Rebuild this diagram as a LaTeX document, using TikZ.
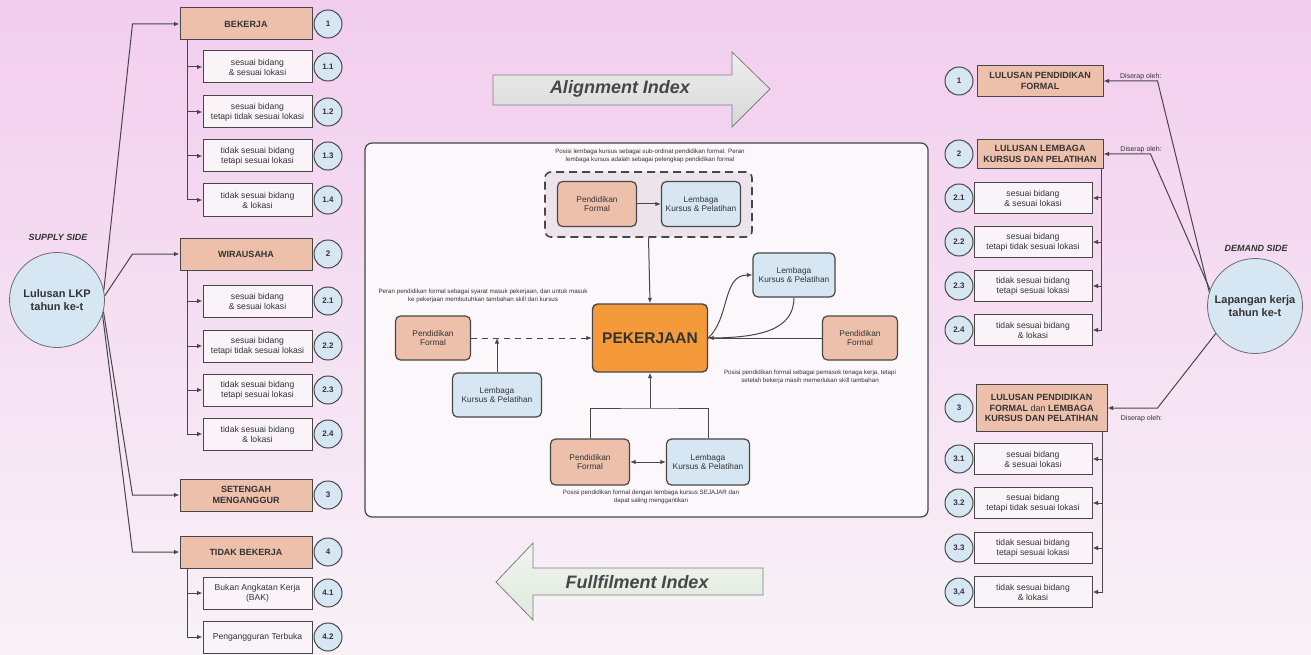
\documentclass[tikz,border=0pt]{standalone}
\usepackage{fontspec}
\setmainfont{Liberation Sans}
\usetikzlibrary{arrows.meta,calc}
\definecolor{bgtop}{HTML}{F2CDEE}
\definecolor{bgbot}{HTML}{F8F2F7}
\definecolor{salmon}{HTML}{EDC0AB}
\definecolor{lblue}{HTML}{D6E6F3}
\definecolor{edge}{HTML}{474747}
\definecolor{boxw}{HTML}{FAF4F9}
\definecolor{orng}{HTML}{F49A3A}
\definecolor{txt}{HTML}{333333}
\definecolor{grp}{HTML}{ECE4EA}
\definecolor{arrowA}{HTML}{D9D8D9}
\definecolor{arrowF}{HTML}{DFE9DC}
\begin{document}
\begin{tikzpicture}[x=1pt,y=-1pt,
  every node/.style={text=txt},
  mainbox/.style={draw=edge,line width=1pt,fill=salmon,minimum height=32pt,
    align=center,inner sep=0pt,font=\bfseries\fontsize{9}{10.5}\selectfont},
  subbox/.style={draw=edge,line width=1pt,fill=boxw,minimum height=32pt,
    align=center,inner sep=0pt,font=\fontsize{8.6}{10}\selectfont},
  numc/.style={circle,draw=edge,line width=1pt,fill=lblue,minimum size=28pt,
    inner sep=0pt,font=\bfseries\fontsize{8}{9}\selectfont},
  sidec/.style={circle,draw=edge!80,line width=0.8pt,fill=lblue,minimum size=95pt,
    align=center,inner sep=0pt,font=\bfseries\fontsize{11}{13}\selectfont},
  inbox/.style={draw=edge,line width=1.2pt,rounded corners=5pt,align=center,
    inner sep=1pt,font=\fontsize{8.3}{9.8}\selectfont},
  note/.style={align=center,inner sep=0pt,font=\fontsize{6.2}{7.4}\selectfont},
  link/.style={draw=edge,line width=1pt},
  arr/.style={link,-{Latex[length=5.5pt,width=4.5pt]}},
  dbl/.style={link,{Latex[length=5.5pt,width=4.5pt]}-{Latex[length=5.5pt,width=4.5pt]}},
  sidelbl/.style={font=\bfseries\itshape\fontsize{9}{10}\selectfont},
  serap/.style={font=\fontsize{7}{8}\selectfont,inner sep=1pt},
  bigarrow/.style={font=\bfseries\itshape\fontsize{18}{20}\selectfont,text=edge}
]
% background
\shade[top color=bgtop,bottom color=bgbot] (0,0) rectangle (1311,655);
\useasboundingbox (0,0) rectangle (1311,655);

% ---------- supply side ----------
\node[sidec] (sup) at (57,300) {Lulusan LKP\\tahun ke-t};
\node[sidelbl] (suplbl) at (58,237) {SUPPLY SIDE};

\node[mainbox,minimum width=132pt] (m1) at (246,24) {BEKERJA};
\node[mainbox,minimum width=132pt] (m2) at (246,254) {WIRAUSAHA};
\node[mainbox,minimum width=132pt] (m3) at (246,495) {SETENGAH\\MENGANGGUR};
\node[mainbox,minimum width=132pt] (m4) at (246,552) {TIDAK BEKERJA};
\node[numc] (n1) at (328,24) {1};
\node[numc] (n2) at (328,254) {2};
\node[numc] (n3) at (328,495) {3};
\node[numc] (n4) at (328,552) {4};

\foreach \id/\y/\t/\n in {
  s11/67/{sesuai bidang\\\& sesuai lokasi}/1.1,
  s12/112/{sesuai bidang\\tetapi tidak sesuai lokasi}/1.2,
  s13/156/{tidak sesuai bidang\\tetapi sesuai lokasi}/1.3,
  s14/200/{tidak sesuai bidang\\\& lokasi}/1.4,
  s21/301/{sesuai bidang\\\& sesuai lokasi}/2.1,
  s22/346/{sesuai bidang\\tetapi tidak sesuai lokasi}/2.2,
  s23/390/{tidak sesuai bidang\\tetapi sesuai lokasi}/2.3,
  s24/434/{tidak sesuai bidang\\\& lokasi}/2.4,
  s41/593/{Bukan Angkatan Kerja\\(BAK)}/4.1,
  s42/637/{Pengangguran Terbuka}/4.2}{
  \node[subbox,minimum width=109pt] (\id) at (257.5,\y) {\t};
  \node[numc] (n\id) at (328,\y) {\n};
}

\draw[arr] (sup.12) -- ([xshift=-47pt]m1.west) -- (m1.west);
\draw[arr] (sup.5) -- ([xshift=-47pt]m2.west) -- (m2.west);
\draw[arr] (sup.-14) -- ([xshift=-47pt]m3.west) -- (m3.west);
\draw[arr] (sup.-18) -- ([xshift=-47pt]m4.west) -- (m4.west);

\foreach \s in {s11,s12,s13,s14}{\draw[arr] ([xshift=8pt]m1.south west) |- (\s.west);}
\foreach \s in {s21,s22,s23,s24}{\draw[arr] ([xshift=8pt]m2.south west) |- (\s.west);}
\foreach \s in {s41,s42}{\draw[arr] ([xshift=8pt]m4.south west) |- (\s.west);}

% ---------- demand side ----------
\node[sidec] (dem) at (1255,306) {Lapangan kerja\\tahun ke-t};
\node[sidelbl] (demlbl) at (1256,248) {DEMAND SIDE};

\node[mainbox,minimum width=126pt,minimum height=31pt] (r1) at (1040,81) {LULUSAN PENDIDIKAN\\FORMAL};
\node[mainbox,minimum width=126pt,minimum height=29pt] (r2) at (1040,154) {LULUSAN LEMBAGA\\KURSUS DAN PELATIHAN};
\node[mainbox,minimum width=131pt,minimum height=47pt] (r3) at (1041.5,408) {LULUSAN PENDIDIKAN\\FORMAL {\mdseries dan} LEMBAGA\\KURSUS DAN PELATIHAN};
\node[numc] (q1) at (959,81) {1};
\node[numc] (q2) at (959,154) {2};
\node[numc] (q3) at (959,408) {3};

\foreach \id/\y/\t/\n in {
  t21/198/{sesuai bidang\\\& sesuai lokasi}/2.1,
  t22/242/{sesuai bidang\\tetapi tidak sesuai lokasi}/2.2,
  t23/286/{tidak sesuai bidang\\tetapi sesuai lokasi}/2.3,
  t24/330/{tidak sesuai bidang\\\& lokasi}/2.4,
  t31/459/{sesuai bidang\\\& sesuai lokasi}/3.1,
  t32/503/{sesuai bidang\\tetapi tidak sesuai lokasi}/3.2,
  t33/548/{tidak sesuai bidang\\tetapi sesuai lokasi}/3.3,
  t34/592/{tidak sesuai bidang\\\& lokasi}/{3,4}}{
  \node[subbox,minimum width=118pt,minimum height=31pt] (\id) at (1033,\y) {\t};
  \node[numc] (n\id) at (959,\y) {\n};
}

\draw[arr] (dem.163) -- ([xshift=54pt]r1.east) -- (r1.east)
  node[serap,pos=0.31,above] {Diserap oleh:};
\draw[arr] (dem.160) -- ([xshift=47pt]r2.east) -- (r2.east)
  node[serap,pos=0.2,above] {Diserap oleh:};
\draw[arr] (dem.215) -- ([xshift=50pt]r3.east) -- (r3.east)
  node[serap,pos=0.32,below=6pt] {Diserap oleh:};

\foreach \s in {t21,t22,t23,t24}{\draw[arr] ([xshift=-2pt]r2.south east) |- (\s.east);}
\foreach \s in {t31,t32,t33,t34}{\draw[arr] ([xshift=-5pt]r3.south east) |- (\s.east);}

% ---------- index arrows ----------
\draw[draw=edge!70,line width=0.8pt,top color=white!55!arrowA,bottom color=arrowA]
  (493,75) -- (732,75) -- (732,52) -- (770,89) -- (732,127) -- (732,105) -- (493,105) -- cycle;
\node[bigarrow] (ai) at (620,89) {Alignment Index};
\draw[draw=edge!70,line width=0.8pt,top color=white!55!arrowF,bottom color=arrowF]
  (763,568) -- (533,568) -- (533,543) -- (496,582) -- (533,620) -- (533,595) -- (763,595) -- cycle;
\node[bigarrow] (fi) at (637,582) {Fullfilment Index};

% ---------- central scheme ----------
\draw[draw=edge,line width=1.2pt,fill=white!40!bgbot,rounded corners=7pt] (365,143) rectangle (928,517);
\node[draw=edge,line width=1.6pt,dash pattern=on 8pt off 5pt,fill=grp,rounded corners=6pt,
  minimum width=207pt,minimum height=65pt] (grpbox) at (648.5,204.5) {};

\node[note] (c1) at (650,156) {Posisi lembaga kursus sebagai sub-ordinat pendidikan formal. Peran\\lembaga kursus adalah sebagai pelengkap pendidikan formal};
\node[note] (c2) at (483,296) {Peran pendidikan formal sebagai syarat masuk pekerjaan, dan untuk masuk\\ke pekerjaan membutuhkan tambahan skill dari kursus};
\node[note] (c3) at (810,377) {Posisi pendidikan formal sebagai pemasok tenaga kerja, tetapi\\setelah bekerja masih memerlukan skill tambahan};
\node[note] (c4) at (651,497) {Posisi pendidikan formal dengan lembaga kursus SEJAJAR dan\\dapat saling menggantikan};

\node[inbox,fill=salmon,minimum width=79pt,minimum height=45pt] (pfT) at (597,204) {Pendidikan\\Formal};
\node[inbox,fill=lblue,minimum width=79pt,minimum height=45pt] (lkT) at (701,204) {Lembaga\\Kursus \& Pelatihan};
\node[inbox,fill=orng,line width=1.4pt,minimum width=115pt,minimum height=68pt,
  font=\bfseries\fontsize{15.5}{18}\selectfont] (pek) at (650,338) {PEKERJAAN};
\node[inbox,fill=salmon,minimum width=75pt,minimum height=44pt] (pfL) at (433,338) {Pendidikan\\Formal};
\node[inbox,fill=lblue,minimum width=89pt,minimum height=44pt] (lkL) at (497,395) {Lembaga\\Kursus \& Pelatihan};
\node[inbox,fill=lblue,minimum width=82pt,minimum height=44pt] (lkR) at (794,275) {Lembaga\\Kursus \& Pelatihan};
\node[inbox,fill=salmon,minimum width=75pt,minimum height=44pt] (pfR) at (860,338) {Pendidikan\\Formal};
\node[inbox,fill=salmon,minimum width=79pt,minimum height=46pt] (pfB) at (590,462) {Pendidikan\\Formal};
\node[inbox,fill=lblue,minimum width=83pt,minimum height=46pt] (lkB) at (708,462) {Lembaga\\Kursus \& Pelatihan};

\draw[arr] (pfT) -- (lkT);
\draw[arr] (grpbox.south) -- (pek.north);
\draw[arr,dash pattern=on 6pt off 5pt] (pfL) -- (pek);
\draw[arr] (lkL.north) -- (lkL.north |- pfL.east);
\coordinate (jn) at (650,408);
\draw[link] (pfB.north) |- (jn) -| (lkB.north);
\draw[arr] (jn) -- (pek.south);
\draw[dbl] (pfB) -- (lkB);
\draw[arr] (pfR) -- (pek);
\draw[arr] (pek.east) .. controls (730,318) and (722,275) .. (lkR.west);
\draw[link] (lkR.south) .. controls (794,330) and (760,338) .. (pek.east);
\end{tikzpicture}
\end{document}
